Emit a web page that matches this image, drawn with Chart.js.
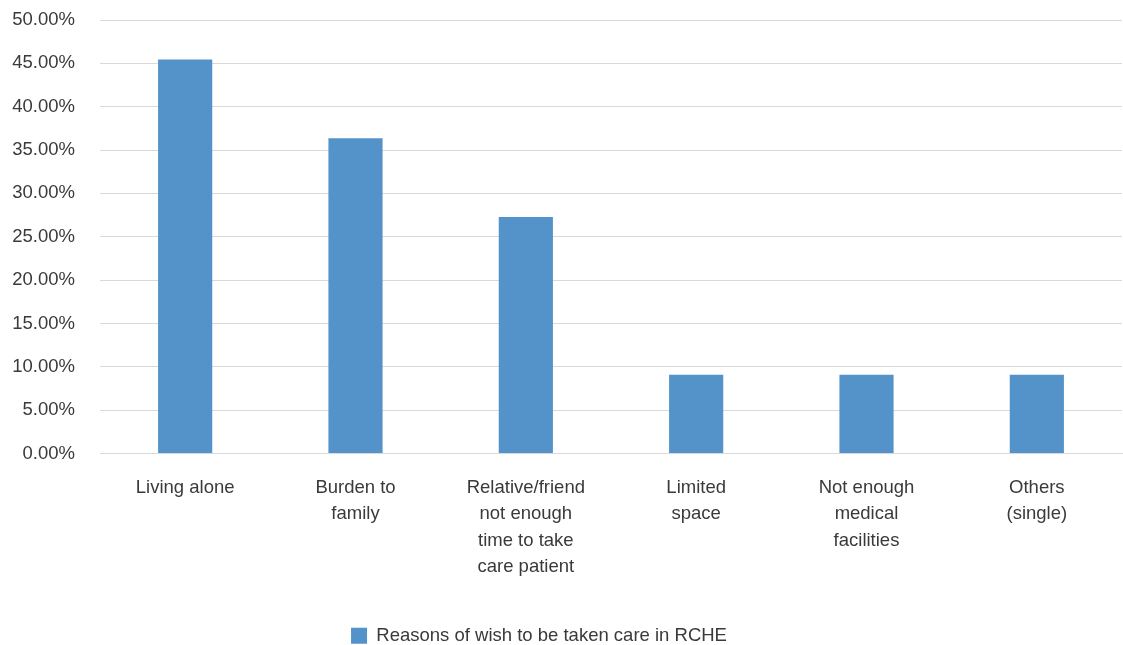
<!DOCTYPE html>
<html>
<head>
<meta charset="utf-8">
<script src="https://cdn.jsdelivr.net/npm/chart.js@4"></script>
<style>
  html, body { margin: 0; padding: 0; background: #ffffff; }
  #wrap { width: 1123px; height: 645px; position: relative; }
</style>
</head>
<body>
<div id="wrap"><canvas id="chart"></canvas></div>
<script>
// Reasons given by respondents for wishing to be cared for in an RCHE
const categories = [
  ["Living alone"],
  ["Burden to", "family"],
  ["Relative/friend", "not enough", "time to take", "care patient"],
  ["Limited", "space"],
  ["Not enough", "medical", "facilities"],
  ["Others", "(single)"]
];
const seriesName = "Reasons of wish to be taken care in RCHE";
const percentages = [45.45, 36.36, 27.27, 9.09, 9.09, 9.09];
const yTicks = [0, 5, 10, 15, 20, 25, 30, 35, 40, 45, 50];

const textColor = "#3a3a3a";
const barColor = "#5393c9";
const gridColor = "#d9d9d9";
const fontFamily = "'Liberation Sans', Arial, Helvetica, sans-serif";

// Nudges the bottom legend so it sits slightly left of centre, close to the canvas foot
const legendOffset = {
  id: "legendOffset",
  afterLayout(chart) {
    const lg = chart.legend;
    if (!lg) return;
    const dx = -22, dy = 10;
    lg.left += dx; lg.right += dx;
    lg.top += dy; lg.bottom += dy;
  }
};

new Chart(document.getElementById("chart"), {
  type: "bar",
  data: {
    labels: categories,
    datasets: [{
      label: seriesName,
      data: percentages,
      backgroundColor: barColor,
      borderWidth: 0,
      barPercentage: 0.318,
      categoryPercentage: 1.0
    }]
  },
  options: {
    responsive: true,
    maintainAspectRatio: false,
    animation: false,
    layout: { padding: { top: 20, right: 1, left: 0, bottom: 0 } },
    scales: {
      x: {
        grid: { display: false, drawTicks: false },
        border: { display: true, color: gridColor, width: 1 },
        ticks: {
          color: textColor,
          font: { family: fontFamily, size: 18.5, lineHeight: 1.43 },
          padding: 21,
          maxRotation: 0,
          autoSkip: false
        },
        afterFit: (scale) => {
          scale.height = 160;
          scale.paddingTop = 0;
          scale.paddingBottom = 0;
        }
      },
      y: {
        min: 0,
        max: 50,
        afterBuildTicks: (scale) => { scale.ticks = yTicks.map(v => ({ value: v })); },
        grid: { color: gridColor, lineWidth: 1, drawTicks: false },
        border: { display: false },
        ticks: {
          color: textColor,
          font: { family: fontFamily, size: 18.5 },
          padding: 25,
          callback: (v) => Number(v).toFixed(2) + "%"
        },
        afterFit: (scale) => {
          scale.width = 100;
          scale.paddingTop = 0;
          scale.paddingBottom = 0;
        }
      }
    },
    plugins: {
      legend: {
        position: "bottom",
        labels: {
          color: textColor,
          font: { family: fontFamily, size: 18.5 },
          boxWidth: 16,
          boxHeight: 16,
          padding: 3
        }
      },
      tooltip: { enabled: false }
    }
  },
  plugins: [legendOffset]
});
</script>
</body>
</html>
